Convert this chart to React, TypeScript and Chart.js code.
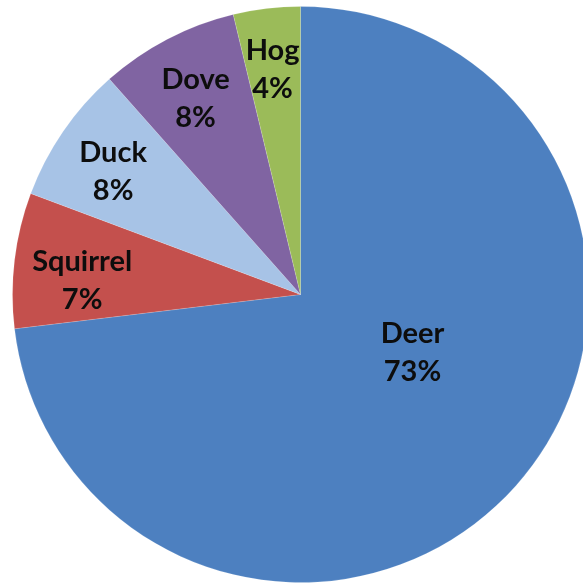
import React, { useEffect, useRef } from "react";
import { Chart, registerables } from "chart.js";

Chart.register(...registerables);

const categories = ["Deer", "Squirrel", "Duck", "Dove", "Hog"];
const values = [73.1, 7.6, 7.75, 7.8, 3.75];
const percentLabels = ["73%", "7%", "8%", "8%", "4%"];
const colors = ["#4D80C0", "#C4504D", "#A7C3E6", "#8064A2", "#9BBB59"];

const labelPlugin = {
  id: "sliceLabels",
  afterDatasetsDraw(chart: any, _args: any, opts: any) {
    const ctx = chart.ctx;
    const meta = chart.getDatasetMeta(0);
    ctx.save();
    ctx.font = `bold ${opts.fontSize}px ${opts.fontFamily}`;
    ctx.fillStyle = opts.color;
    ctx.textAlign = "center";
    ctx.textBaseline = "alphabetic";
    meta.data.forEach((arc: any, i: number) => {
      const p = arc.getProps(["x", "y", "startAngle", "endAngle", "outerRadius"], true);
      const mid = (p.startAngle + p.endAngle) / 2 + (opts.angleShift[i] * Math.PI) / 180;
      const r = p.outerRadius * opts.radius[i];
      const cx = p.x + Math.cos(mid) * r;
      const cy = p.y + Math.sin(mid) * r;
      const half = opts.lineGap / 2;
      const capHalf = opts.fontSize * 0.36;
      ctx.fillText(chart.data.labels[i], cx, cy - half + capHalf);
      ctx.fillText(opts.texts[i], cx, cy + half + capHalf);
    });
    ctx.restore();
  },
};

export default function App() {
  const ref = useRef<HTMLCanvasElement | null>(null);
  useEffect(() => {
    if (!ref.current) return;
    const chart = new Chart(ref.current, {
      type: "pie",
      data: {
        labels: categories,
        datasets: [
          {
            data: values,
            backgroundColor: colors,
            borderColor: "rgba(255,255,255,0.15)",
            borderWidth: 1,
          },
        ],
      },
      options: {
        responsive: false,
        animation: false,
        layout: { padding: 0 },
        plugins: {
          legend: { display: false },
          tooltip: { enabled: false },
          sliceLabels: {
            texts: percentLabels,
            fontSize: 29,
            fontFamily: "Lato, 'Open Sans', sans-serif",
            color: "#0d0d0d",
            lineGap: 38,
            radius: [0.437, 0.76, 0.78, 0.775, 0.79],
            angleShift: [-14.4, -3, -1, -0.5, -0.3],
          },
        } as any,
      },
      plugins: [labelPlugin],
    });
    return () => chart.destroy();
  }, []);
  return (
    <div
      style={{
        position: "fixed",
        left: 0,
        top: 0,
        width: 583,
        height: 586,
        overflow: "hidden",
        background: "#ffffff",
      }}
    >
      <canvas
        ref={ref}
        width={577}
        height={577}
        style={{ position: "absolute", left: 11.5, top: 5.5, width: 577, height: 577 }}
      />
    </div>
  );
}
